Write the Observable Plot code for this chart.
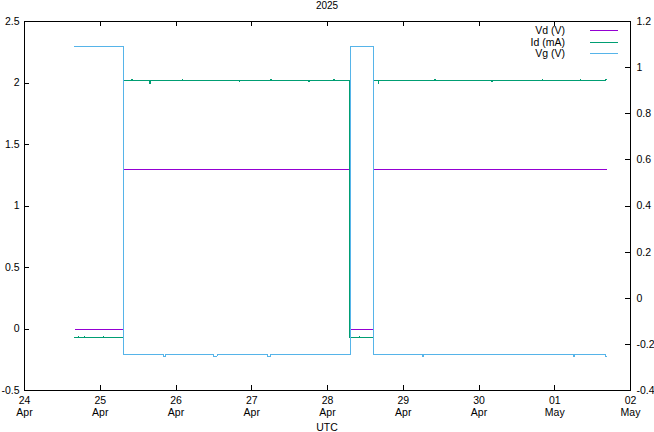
<!DOCTYPE html>
<html><head><meta charset="utf-8">
<script src="https://cdn.jsdelivr.net/npm/d3@7"></script>
<script src="https://cdn.jsdelivr.net/npm/@observablehq/plot@0.6"></script>
<style>
body{margin:0;background:#fff;font-family:"Liberation Sans",sans-serif;}
#wrap{position:relative;width:654px;height:432px;}
.cap{position:absolute;left:0;width:654px;text-align:center;font-size:10.5px;line-height:12px;color:#000;}
#legend{position:absolute;left:0;top:0;}
</style></head>
<body>
<div id="wrap"></div>
<script>
const title = "2025";
const xLabel = "UTC";
const seriesNames = ["Vd (V)", "Id (mA)", "Vg (V)"];
const seriesColors = ["#9400d3", "#009e73", "#56b4e9"];

const xDomain = ["2025-04-24T00:00Z", "2025-05-02T00:00Z"];
const leftDomain = [-0.5, 2.5];
const rightDomain = [-0.4, 1.2];
const leftTicks = [-0.5, 0, 0.5, 1, 1.5, 2, 2.5];
const rightTicks = [-0.4, -0.2, 0, 0.2, 0.4, 0.6, 0.8, 1, 1.2];

// Vd (V), left axis
const vdTimes = ["2025-04-24T15:51Z", "2025-04-25T07:29Z", "2025-04-28T07:12Z", "2025-04-28T14:38Z", "2025-05-01T16:22Z"];
const vdValues = [0, 1.3, 0, 1.3, 1.3];

// Id (mA), left axis
const idTimes = [
  "2025-04-24T15:51Z", "2025-04-24T17:00Z", "2025-04-24T17:10Z", "2025-04-24T19:00Z", "2025-04-24T19:10Z",
  "2025-04-25T01:00Z", "2025-04-25T01:10Z",
  "2025-04-25T07:29Z", "2025-04-25T10:00Z", "2025-04-25T10:10Z", "2025-04-25T15:36Z", "2025-04-25T15:46Z",
  "2025-04-26T02:00Z", "2025-04-26T02:10Z", "2025-04-26T20:00Z", "2025-04-26T20:10Z",
  "2025-04-27T06:00Z", "2025-04-27T06:10Z", "2025-04-27T18:00Z", "2025-04-27T18:10Z",
  "2025-04-28T02:00Z", "2025-04-28T02:10Z",
  "2025-04-28T06:50Z", "2025-04-28T10:00Z", "2025-04-28T10:10Z",
  "2025-04-28T14:38Z", "2025-04-28T16:00Z", "2025-04-28T16:10Z",
  "2025-04-29T10:00Z", "2025-04-29T10:10Z", "2025-04-30T04:00Z", "2025-04-30T04:10Z",
  "2025-04-30T20:00Z", "2025-04-30T20:10Z", "2025-05-01T08:00Z", "2025-05-01T08:10Z",
  "2025-05-01T16:12Z", "2025-05-01T16:22Z"
];
const idValues = [
  -0.067, -0.057, -0.067, -0.057, -0.067,
  -0.057, -0.067,
  2.02, 2.028, 2.02, 1.993, 2.02,
  2.028, 2.02, 2.01, 2.02,
  2.028, 2.02, 2.012, 2.02,
  2.028, 2.02,
  -0.067, -0.057, -0.067,
  2.02, 1.995, 2.02,
  2.028, 2.02, 2.012, 2.02,
  2.028, 2.02, 2.025, 2.02,
  2.03, 2.03
];

// Vg (V), right axis
const vgTimes = [
  "2025-04-24T15:51Z", "2025-04-25T07:29Z", "2025-04-25T20:00Z", "2025-04-25T20:40Z",
  "2025-04-26T12:00Z", "2025-04-26T13:00Z", "2025-04-27T05:00Z", "2025-04-27T06:00Z",
  "2025-04-28T07:12Z", "2025-04-28T14:38Z", "2025-04-29T06:00Z", "2025-04-29T06:30Z",
  "2025-05-01T06:00Z", "2025-05-01T06:20Z", "2025-05-01T16:00Z", "2025-05-01T16:22Z"
];
const vgValues = [
  1.09, -0.245, -0.252, -0.245,
  -0.252, -0.245, -0.252, -0.245,
  1.09, -0.245, -0.252, -0.245,
  -0.252, -0.245, -0.252, -0.252
];

// map right-axis values onto the left scale
const toLeft = v => leftDomain[0] + (v - rightDomain[0]) * (leftDomain[1] - leftDomain[0]) / (rightDomain[1] - rightDomain[0]);
const fromLeft = y => rightDomain[0] + (y - leftDomain[0]) * (rightDomain[1] - rightDomain[0]) / (leftDomain[1] - leftDomain[0]);

const rows = (ts, vs, f = v => v) => ts.map((t, i) => ({t: new Date(t), v: f(vs[i])}));
const vd = rows(vdTimes, vdValues);
const id = rows(idTimes, idValues);
const vg = rows(vgTimes, vgValues, toLeft);

const W = 654, H = 432, mL = 24, mR = 24, mT = 21, mB = 42;
const pw = W - mL - mR, ph = H - mT - mB;
const dayTicks = d3.utcDay.range(new Date(xDomain[0]), d3.utcDay.offset(new Date(xDomain[1]), 1));
const fmtDay = d3.utcFormat("%d\n%b");
const numFmt = d => String(+(+d).toFixed(1));
const crisp = {shapeRendering: "crispEdges"};

const chart = Plot.plot({
  width: W, height: H,
  marginLeft: mL, marginRight: mR, marginTop: mT, marginBottom: mB,
  style: {fontFamily: "Liberation Sans, sans-serif", fontSize: "10.5px", color: "#000", background: "#fff"},
  x: {type: "utc", domain: xDomain.map(d => new Date(d))},
  y: {domain: leftDomain},
  marks: [
    Plot.lineY(vd, {x: "t", y: "v", curve: "step-after", stroke: seriesColors[0], strokeWidth: 1, ...crisp}),
    Plot.lineY(id, {x: "t", y: "v", curve: "step-after", stroke: seriesColors[1], strokeWidth: 1, ...crisp}),
    Plot.lineY(vg, {x: "t", y: "v", curve: "step-after", stroke: seriesColors[2], strokeWidth: 1, ...crisp}),
    Plot.frame({stroke: "black", ...crisp}),
    Plot.tickX(dayTicks, {x: d => d, insetTop: ph - 5, stroke: "black", ...crisp}),
    Plot.tickX(dayTicks, {x: d => d, insetBottom: ph - 5, stroke: "black", ...crisp}),
    Plot.tickY(leftTicks, {y: d => d, insetRight: pw - 5, stroke: "black", ...crisp}),
    Plot.tickY(rightTicks.map(toLeft), {y: d => d, insetLeft: pw - 5, stroke: "black", ...crisp}),
    Plot.axisY(leftTicks, {anchor: "left", tickSize: 0, tickPadding: 5, tickFormat: numFmt, label: null}),
    Plot.axisY(rightTicks.map(toLeft), {anchor: "right", tickSize: 0, tickPadding: 6, tickFormat: d => numFmt(fromLeft(d)), label: null}),
    Plot.axisX(dayTicks, {anchor: "bottom", tickSize: 0, tickPadding: 5, tickFormat: fmtDay, lineHeight: 1.15, label: null})
  ]
});

const wrap = document.getElementById("wrap");
wrap.appendChild(chart);

const t = document.createElement("div");
t.className = "cap"; t.style.top = "0px"; t.style.fontSize = "10px"; t.textContent = title;
wrap.appendChild(t);
const u = document.createElement("div");
u.className = "cap"; u.style.top = "421px"; u.textContent = xLabel;
wrap.appendChild(u);

// legend (top right inside the frame)
const leg = d3.select(wrap).append("svg").attr("id", "legend").attr("width", W).attr("height", 70)
  .style("font-family", "Liberation Sans, sans-serif").style("font-size", "10.5px");
seriesNames.forEach((name, i) => {
  const y = 30.5 + i * 11.6;
  leg.append("text").attr("x", 565).attr("y", y).attr("dy", "0.35em").attr("text-anchor", "end").text(name);
  leg.append("line").attr("x1", 590).attr("x2", 618).attr("y1", y).attr("y2", y)
    .attr("stroke", seriesColors[i]).attr("stroke-width", 1).attr("shape-rendering", "crispEdges");
});
</script>
</body></html>
